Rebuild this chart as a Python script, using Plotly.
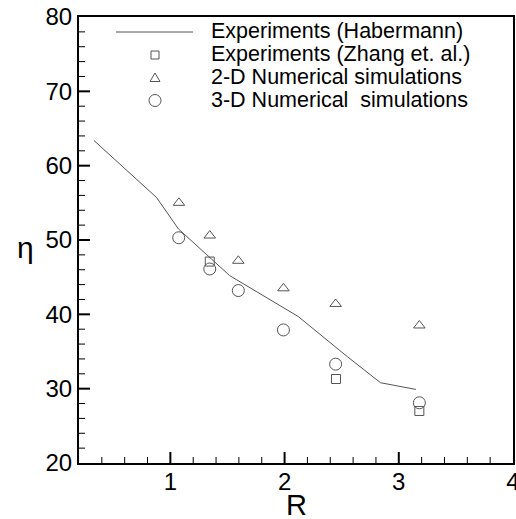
import plotly.graph_objects as go

# Experiments (Habermann) - line
hab_R = [0.33, 0.88, 1.07, 1.52, 2.12, 2.55, 2.84, 3.15]
hab_eta = [63.4, 55.7, 51.5, 45.2, 39.7, 34.3, 30.8, 29.9]

# Experiments (Zhang et. al.) - squares
zh_R = [1.345, 2.45, 3.18]
zh_eta = [47.1, 31.3, 27.0]

# 2-D numerical simulations - triangles
d2_R = [1.075, 1.345, 1.595, 1.99, 2.447, 3.18]
d2_eta = [55.0, 50.6, 47.2, 43.5, 41.4, 38.5]

# 3-D numerical simulations - circles
d3_R = [1.073, 1.345, 1.595, 1.99, 2.447, 3.18]
d3_eta = [50.3, 46.1, 43.2, 37.9, 33.3, 28.1]

series_names = ["Experiments (Habermann)", "Experiments (Zhang et. al.)",
                "2-D Numerical simulations", "3-D Numerical  simulations"]

# axes
x_range = [0.2, 4]
y_range = [20, 80]
x_major = [1, 2, 3]
x_minor = [v / 10 for v in range(4, 40, 2) if v % 10 != 0]
y_major = [30, 40, 50, 60, 70]
y_minor = [v for v in range(22, 80, 2) if v % 10 != 0]

W, H = 516, 519
ML, MR, MT, MB = 79, 3, 17, 56
PW, PH = W - ML - MR, H - MT - MB
grey = "#555555"


def px_x(p):
    return (p - ML) / PW


def px_y(p):
    return 1 - (p - MT) / PH


fig = go.Figure()
fig.add_trace(go.Scatter(x=hab_R, y=hab_eta, mode="lines", name=series_names[0],
                         line=dict(color=grey, width=1), showlegend=False))
fig.add_trace(go.Scatter(x=zh_R, y=zh_eta, mode="markers", name=series_names[1], showlegend=False,
                         marker=dict(symbol="square-open", size=9, color=grey, line=dict(width=1))))
fig.add_trace(go.Scatter(x=d2_R, y=d2_eta, mode="markers", name=series_names[2], showlegend=False,
                         marker=dict(symbol="triangle-up-open", size=10, color=grey, line=dict(width=1))))
fig.add_trace(go.Scatter(x=d3_R, y=d3_eta, mode="markers", name=series_names[3], showlegend=False,
                         marker=dict(symbol="circle-open", size=12, color=grey, line=dict(width=1))))


# inside tick marks, drawn as thin line traces along the axes
def tick_trace(vals, length_px, width, axis):
    xs, ys = [], []
    for v in vals:
        if axis == "x":
            dy = length_px / PH * (y_range[1] - y_range[0])
            xs += [v, v, None]
            ys += [y_range[0], y_range[0] + dy, None]
        else:
            dx = length_px / PW * (x_range[1] - x_range[0])
            xs += [x_range[0], x_range[0] + dx, None]
            ys += [v, v, None]
    return go.Scatter(x=xs, y=ys, mode="lines", line=dict(color="black", width=width),
                      showlegend=False, hoverinfo="skip", cliponaxis=False)


fig.add_trace(tick_trace(x_major, 11, 2, "x"))
fig.add_trace(tick_trace(x_minor, 6, 1, "x"))
fig.add_trace(tick_trace(y_major, 11, 2, "y"))
fig.add_trace(tick_trace(y_minor, 6, 1, "y"))

# custom legend (layout decoration)
rows = [31, 54, 77, 99.5]
sym_x = px_x(155)
annotations = []
for name, ry in zip(series_names, rows):
    annotations.append(dict(text=name, x=px_x(210), y=px_y(ry), xref="paper", yref="paper",
                            xanchor="left", yanchor="middle", showarrow=False, borderpad=0,
                            font=dict(size=21.5, color="black")))
shapes = [
    dict(type="line", xref="paper", yref="paper", x0=px_x(116), x1=px_x(193),
         y0=px_y(rows[0] + 1), y1=px_y(rows[0] + 1), line=dict(color=grey, width=1)),
    dict(type="rect", xref="paper", yref="paper", xsizemode="pixel", ysizemode="pixel",
         xanchor=sym_x, yanchor=px_y(rows[1] + 1), x0=-4, x1=4, y0=-4, y1=4,
         line=dict(color=grey, width=1)),
    dict(type="path", xref="paper", yref="paper", xsizemode="pixel", ysizemode="pixel",
         xanchor=sym_x, yanchor=px_y(rows[2] + 1), path="M-5,-3.5 L5,-3.5 L0,5 Z",
         line=dict(color=grey, width=1)),
    dict(type="circle", xref="paper", yref="paper", xsizemode="pixel", ysizemode="pixel",
         xanchor=sym_x, yanchor=px_y(rows[3] + 1), x0=-6, x1=6, y0=-6, y1=6,
         line=dict(color=grey, width=1)),
]
# axis titles as upright text
annotations.append(dict(text="η", x=px_x(25), y=px_y(247), xref="paper", yref="paper",
                        xanchor="center", yanchor="middle", showarrow=False,
                        font=dict(size=30, color="black")))
annotations.append(dict(text="R", x=0.5, y=px_y(505), xref="paper", yref="paper",
                        xanchor="center", yanchor="middle", showarrow=False, borderpad=0,
                        font=dict(size=29, color="black")))

fig.update_layout(
    width=W, height=H,
    margin=dict(l=ML, r=MR, t=MT, b=MB, autoexpand=False),
    plot_bgcolor="white", paper_bgcolor="white",
    font=dict(family="Liberation Sans, Arial, sans-serif", color="black", size=24),
    showlegend=False,
    annotations=annotations,
    shapes=shapes,
    xaxis=dict(range=x_range, dtick=1, tick0=0, ticks="", showgrid=False, zeroline=False,
               showline=True, linecolor="black", linewidth=2, mirror=True,
               tickfont=dict(size=24), ticklabeloverflow="allow", ticklabelstandoff=-4,
               automargin=False),
    yaxis=dict(range=y_range, dtick=10, ticks="", showgrid=False, zeroline=False,
               showline=True, linecolor="black", linewidth=2, mirror=True,
               tickfont=dict(size=24), ticklabeloverflow="allow", automargin=False),
)
fig.write_html("out.html")
